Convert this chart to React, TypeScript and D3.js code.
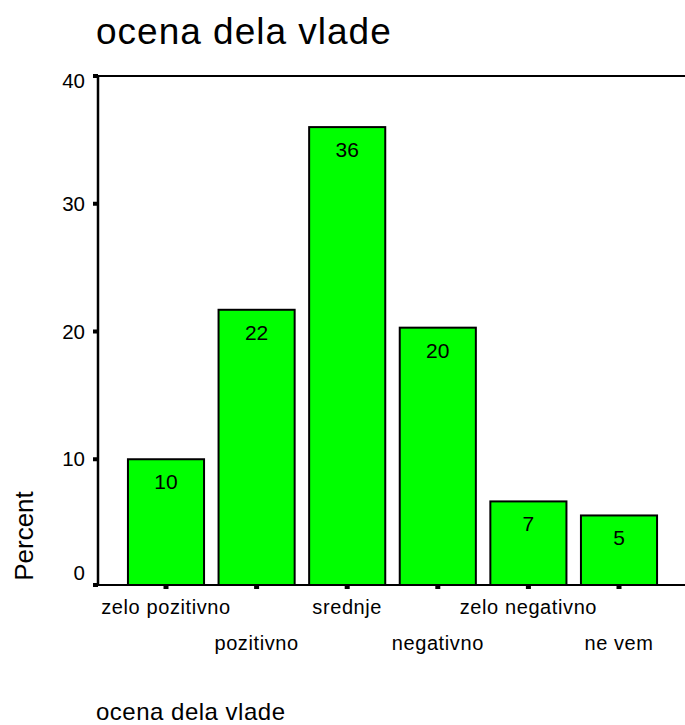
import React from "react";
import * as d3 from "d3";

const categories = ["zelo pozitivno", "pozitivno", "srednje", "negativno", "zelo negativno", "ne vem"];
const percents = [10.0, 21.7, 36.0, 20.3, 6.7, 5.6];
const barLabels = ["10", "22", "36", "20", "7", "5"];
const yTicks = [0, 10, 20, 30, 40];
const titleText = "ocena dela vlade";
const xTitleText = "ocena dela vlade";
const yTitleText = "Percent";

const W = 685;
const H = 725;
const FONT = "Arial, 'Liberation Sans', sans-serif";

export default function App() {
  const axisX = 98;
  const baseY = 585;
  const topY = 76;
  const x = d3.scaleBand<string>().domain(categories).range([120.7, 664.3]).paddingInner(0.16).paddingOuter(0.08);
  const y = d3.scaleLinear().domain([0, 40]).range([587, topY]);
  const bw = x.bandwidth();

  return (
    <svg width={W} height={H} style={{ position: "absolute", left: 0, top: 0, background: "#fff" }} fontFamily={FONT}>
      <rect x={0} y={0} width={W} height={H} fill="#fff" />
      <text x={96} y={44} fontSize={37} letterSpacing={1} fill="#000">{titleText}</text>

      {/* bars */}
      {percents.map((v, i) => {
        const cx = (x(categories[i]) as number) + bw / 2;
        return (
          <g key={i}>
            <rect
              x={x(categories[i]) as number}
              y={y(v)}
              width={bw}
              height={baseY - y(v)}
              fill="#00ff00"
              stroke="#000"
              strokeWidth={2}
            />
            <text x={cx} y={y(v) + 30} fontSize={21} textAnchor="middle" fill="#000">{barLabels[i]}</text>
          </g>
        );
      })}

      {/* frame: top line, left axis, bottom axis */}
      <line x1={axisX} y1={topY} x2={W} y2={topY} stroke="#000" strokeWidth={2} />
      <line x1={axisX} y1={topY - 1} x2={axisX} y2={baseY + 1} stroke="#000" strokeWidth={2.5} />
      <line x1={axisX} y1={baseY} x2={W} y2={baseY} stroke="#000" strokeWidth={2} />

      {/* y ticks */}
      {yTicks.map((t, i) => {
        const ty = Math.min(y(t), baseY);
        const last = i === yTicks.length - 1;
        const first = i === 0;
        const labelY = last ? ty + 12 : first ? ty - 5 : ty + 7;
        return (
          <g key={t}>
            <rect x={93} y={ty - 2} width={5} height={4} fill="#000" />
            <text x={85} y={labelY} fontSize={20.5} textAnchor="end" fill="#000">{t}</text>
          </g>
        );
      })}

      {/* x ticks and labels */}
      {categories.map((c, i) => {
        const cx = (x(c) as number) + bw / 2;
        return (
          <g key={c}>
            <rect x={cx - 2.5} y={baseY} width={5} height={4} fill="#000" />
            <text x={cx} y={i % 2 === 0 ? 614 : 650} fontSize={20} letterSpacing={0.6} textAnchor="middle" fill="#000">{c}</text>
          </g>
        );
      })}

      <text transform={`translate(33,${536}) rotate(-90)`} fontSize={26} textAnchor="middle" fill="#000">{yTitleText}</text>
      <text x={96} y={720} fontSize={24} letterSpacing={0.5} fill="#000">{xTitleText}</text>
    </svg>
  );
}
